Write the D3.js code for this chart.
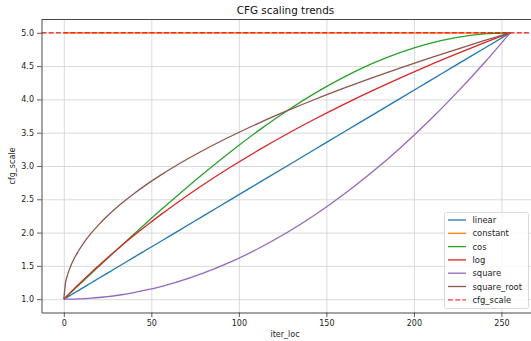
<!doctype html>
<html>
<head>
<style>
  body { margin: 0; background: #fff; }
  svg { font-family: "DejaVu Sans", sans-serif; }
  .grid line { stroke: #d0d0d0; stroke-width: 0.8; }
  .grid path { display: none; }
</style>
<script src="https://d3js.org/d3.v7.min.js"></script>
</head>
<body>
<svg width="531" height="341"></svg>
<script>

// iteration positions sampled off the chart
var iters = [0, 1, 2, 4, 6, 8, 12, 16, 20, 25, 32, 40, 48, 56, 64, 80, 96, 112, 128, 144, 160, 176, 192, 208, 224, 240, 255];

var linear = [1.000, 1.016, 1.031, 1.063, 1.094, 1.125, 1.188, 1.251, 1.314, 1.392, 1.502, 1.627, 1.753, 1.878, 2.004,
              2.255, 2.506, 2.757, 3.008, 3.259, 3.510, 3.761, 4.012, 4.263, 4.514, 4.765, 5.000];
var constant = [5, 5, 5, 5, 5, 5, 5, 5, 5, 5, 5, 5, 5, 5, 5, 5, 5, 5, 5, 5, 5, 5, 5, 5, 5, 5, 5];
var cos = [1.000, 1.025, 1.049, 1.099, 1.148, 1.197, 1.295, 1.394, 1.492, 1.614, 1.783, 1.976, 2.166, 2.353, 2.536,
           2.892, 3.230, 3.546, 3.837, 4.101, 4.334, 4.536, 4.703, 4.834, 4.927, 4.983, 5.000];
var log = [1.000, 1.027, 1.054, 1.106, 1.159, 1.210, 1.311, 1.410, 1.505, 1.623, 1.781, 1.955, 2.121, 2.281, 2.434,
           2.725, 2.996, 3.249, 3.488, 3.713, 3.926, 4.128, 4.321, 4.505, 4.680, 4.848, 5.000];
var square = [1.000, 1.000, 1.000, 1.001, 1.002, 1.004, 1.009, 1.016, 1.025, 1.038, 1.063, 1.098, 1.142, 1.193, 1.252,
              1.394, 1.567, 1.772, 2.008, 2.276, 2.575, 2.905, 3.268, 3.661, 4.087, 4.543, 5.000];
var square_root = [1.000, 1.250, 1.354, 1.501, 1.614, 1.708, 1.868, 2.002, 2.120, 2.252, 2.417, 2.584, 2.735, 2.874, 3.004,
                   3.240, 3.454, 3.651, 3.834, 4.006, 4.168, 4.323, 4.471, 4.613, 4.749, 4.881, 5.000];
var cfgScale = 5.0;

var seriesNames = ["linear", "constant", "cos", "log", "square", "square_root"];
var seriesValues = [linear, constant, cos, log, square, square_root];
var colors = ["#1f77b4", "#ff7f0e", "#2ca02c", "#d62728", "#9467bd", "#8c564b"];

var xTicks = [0, 50, 100, 150, 200, 250];
var yTicks = [1.0, 1.5, 2.0, 2.5, 3.0, 3.5, 4.0, 4.5, 5.0];

var svg = d3.select("svg"),
    pLeft = 41.5, pRight = 532.5, pTop = 19.5, pBottom = 312.5;

var xScale = d3.scaleLinear().domain([-12.75, 267.75]).range([pLeft, pRight]),
    yScale = d3.scaleLinear().domain([0.8, 5.2]).range([pBottom, pTop]);

// grid
svg.append("g")
   .attr("class", "grid")
   .attr("transform", "translate(0," + pBottom + ")")
   .call(d3.axisBottom(xScale).tickValues(xTicks).tickSize(-(pBottom - pTop)).tickFormat(""));
svg.append("g")
   .attr("class", "grid")
   .attr("transform", "translate(" + pLeft + ",0)")
   .call(d3.axisLeft(yScale).tickValues(yTicks).tickSize(-(pRight - pLeft)).tickFormat(""));

var line = d3.line()
    .x(function(d) { return xScale(d[0]); })
    .y(function(d) { return yScale(d[1]); })
    .curve(d3.curveMonotoneX);

seriesValues.forEach(function(vals, i) {
    svg.append("path")
       .datum(iters.map(function(t, j) { return [t, vals[j]]; }))
       .attr("fill", "none")
       .attr("stroke", colors[i])
       .attr("stroke-width", 1.3)
       .attr("d", line);
});

// cfg_scale reference line
svg.append("line")
   .attr("x1", pLeft).attr("x2", pRight)
   .attr("y1", yScale(cfgScale)).attr("y2", yScale(cfgScale))
   .attr("stroke", "#ff0000")
   .attr("stroke-opacity", 0.75)
   .attr("stroke-width", 1.4)
   .attr("stroke-dasharray", "5,2.2");

// axes
var xAxis = svg.append("g")
   .attr("transform", "translate(0," + pBottom + ")")
   .call(d3.axisBottom(xScale).tickValues(xTicks).tickSize(4.5).tickPadding(3).tickSizeOuter(0));
var yAxis = svg.append("g")
   .attr("transform", "translate(" + pLeft + ",0)")
   .call(d3.axisLeft(yScale).tickValues(yTicks).tickSize(4.5).tickPadding(3).tickSizeOuter(0)
         .tickFormat(d3.format(".1f")));
[xAxis, yAxis].forEach(function(a) {
    a.selectAll("text").attr("font-size", "8px").attr("fill", "#222").attr("font-family", "DejaVu Sans");
    a.selectAll(".tick line").attr("stroke", "#333").attr("stroke-width", 0.8);
    a.select(".domain").attr("stroke", "#333").attr("stroke-width", 0.9);
});
svg.append("line")
   .attr("x1", pLeft).attr("x2", pRight).attr("y1", pTop).attr("y2", pTop)
   .attr("stroke", "#333").attr("stroke-width", 0.9);

// labels
svg.append("text")
   .attr("x", (pLeft + pRight) / 2 - 1.5)
   .attr("y", 14)
   .attr("text-anchor", "middle")
   .attr("font-size", "10.4px")
   .attr("fill", "#111")
   .text("CFG scaling trends");

svg.append("text")
   .attr("x", (pLeft + pRight) / 2 - 2)
   .attr("y", 337)
   .attr("text-anchor", "middle")
   .attr("font-size", "8px")
   .attr("fill", "#222")
   .text("iter_loc");

svg.append("text")
   .attr("transform", "translate(15," + ((pTop + pBottom) / 2) + ") rotate(-90)")
   .attr("text-anchor", "middle")
   .attr("font-size", "8px")
   .attr("fill", "#222")
   .text("cfg_scale");

// legend
var legendNames = seriesNames.concat(["cfg_scale"]),
    legendColors = colors.concat(["#ff0000"]);
var lg = svg.append("g").attr("transform", "translate(444.5,212.5)");
lg.append("rect")
  .attr("width", 84).attr("height", 96).attr("rx", 2)
  .attr("fill", "#fff").attr("fill-opacity", 0.8)
  .attr("stroke", "#d0d0d0").attr("stroke-width", 0.8);
legendNames.forEach(function(name, i) {
    var y = 7.5 + i * 13.3;
    lg.append("line")
      .attr("x1", 3.5).attr("x2", 21.5).attr("y1", y).attr("y2", y)
      .attr("stroke", legendColors[i])
      .attr("stroke-width", 1.3)
      .attr("stroke-opacity", i == 6 ? 0.75 : 1)
      .attr("stroke-dasharray", i == 6 ? "5,2.2" : null);
    lg.append("text")
      .attr("x", 28).attr("y", y + 3)
      .attr("font-size", "8.4px")
      .attr("fill", "#222")
      .text(name);
});

</script>
</body>
</html>
